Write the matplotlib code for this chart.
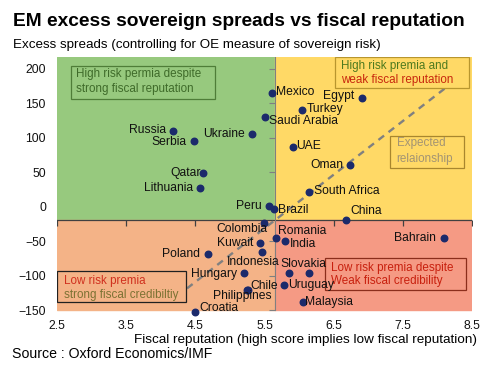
import matplotlib
matplotlib.use("Agg")
import matplotlib.pyplot as plt
from matplotlib.patches import Rectangle

plt.rcParams['font.family'] = ['Liberation Sans', 'DejaVu Sans']

# data
countries = ["Russia", "Serbia", "Qatar", "Lithuania", "Ukraine", "Mexico",
             "Turkey", "Saudi Arabia", "Egypt", "UAE", "Oman", "South Africa",
             "Peru", "Brazil", "China", "Colombia", "Romania", "India",
             "Kuwait", "Indonesia", "Poland", "Hungary", "Chile", "Philippines",
             "Croatia", "Slovakia", "", "Uruguay", "Malaysia", "Bahrain"]
fiscal_rep = [4.18, 4.48, 4.61, 4.57, 5.32, 5.61,
              6.04, 5.51, 6.91, 5.91, 6.73, 6.14,
              5.56, 5.64, 6.68, 5.49, 5.66, 5.79,
              5.43, 5.46, 4.68, 5.20, 5.26, 5.25,
              4.49, 5.85, 6.14, 5.78, 6.06, 8.09]
excess_spread = [110, 96, 49, 27, 106, 165,
                 141, 130, 158, 86, 61, 22,
                 1.5, -3, -19, -23, -45, -49,
                 -52, -65, -68, -96, -120, -121,
                 -152, -96, -96, -113, -138, -45]

x_ticks = [2.5, 3.5, 4.5, 5.5, 6.5, 7.5, 8.5]
y_ticks = [-150, -100, -50, 0, 50, 100, 150, 200]
x_cross = 5.65
y_cross = -19
trend_x = [4.38, 8.14]
trend_y = [-118, 174]

# label placement (pixel offsets, alignment)
label_pos = {
    "Russia": (-7, 1, "right"), "Serbia": (-7, -1, "right"),
    "Qatar": (-2, 0, "right"), "Lithuania": (-7, 0, "right"),
    "Ukraine": (-7, 0, "right"), "Mexico": (4, 1, "left"),
    "Turkey": (5, 1, "left"), "Saudi Arabia": (4, -4, "left"),
    "Egypt": (-8, 2, "right"), "UAE": (3, 1, "left"),
    "Oman": (-6, 0, "right"), "South Africa": (5, 1, "left"),
    "Peru": (-7, 0, "right"), "Brazil": (4, -1, "left"),
    "China": (4, 9, "left"), "Colombia": (4, -6, "right"),
    "Romania": (2, 7, "left"), "India": (5, -3, "left"),
    "Kuwait": (-6, 0, "right"), "Indonesia": (-8, -10, "center"),
    "Poland": (-8, 0, "right"), "Hungary": (-7, -1, "right"),
    "Chile": (2, 4, "left"), "Philippines": (-5, -6, "center"),
    "Croatia": (5, 4, "left"), "Slovakia": (-8, 9, "left"),
    "Uruguay": (4, 0, "left"), "Malaysia": (2, 0, "left"),
    "Bahrain": (-8, 0, "right"),
}

fig = plt.figure(figsize=(4.93, 3.69), dpi=100)
ax = fig.add_axes([0.1156, 0.1436, 0.8418, 0.7019])
x0, x1 = 2.5, 8.5
y0, y1 = -150, 217
ax.set_xlim(x0, x1)
ax.set_ylim(-158, y1)

# quadrant backgrounds
ax.add_patch(Rectangle((x0, y_cross), x_cross - x0, y1 - y_cross, color="#97C97E", zorder=0))
ax.add_patch(Rectangle((x_cross, y_cross), x1 - x_cross, y1 - y_cross, color="#FFD966", zorder=0))
ax.add_patch(Rectangle((x0, y0), x_cross - x0, y_cross - y0, color="#F4B387", zorder=0))
ax.add_patch(Rectangle((x_cross, y0), x1 - x_cross, y_cross - y0, color="#F59A84", zorder=0))

# axis lines crossing in the middle
ax.plot([x0, x1], [y_cross, y_cross], color="#404040", lw=0.9, zorder=1)
ax.plot(x_ticks, [y_cross] * len(x_ticks), ls="none", marker=3, ms=4,
        mew=0.9, color="#404040", zorder=1)
ax.plot([x_cross, x_cross], [y0, y1], color="#808080", lw=0.8, zorder=1)
ax.plot([x_cross] * len(y_ticks), y_ticks, ls="none", marker=0, ms=4,
        mew=0.8, color="#808080", zorder=1)

# expected relationship
ax.plot(trend_x, trend_y, color="#808080", lw=1.7, ls=(0, (3, 2.4)), zorder=2)

ax.scatter(fiscal_rep, excess_spread, s=22, color="#1B2A6B", zorder=4, clip_on=False)
for name, xv, yv in zip(countries, fiscal_rep, excess_spread):
    if not name:
        continue
    dx, dy, ha = label_pos[name]
    ax.annotate(name, (xv, yv), xytext=(dx, dy), textcoords="offset pixels",
                ha=ha, va="center", fontsize=8.7, color="#111111", zorder=5)

# annotation boxes
def box(xa, ya, w, h, edge, face):
    ax.add_patch(Rectangle((xa, ya), w, h, facecolor=face, edgecolor=edge,
                           lw=0.9, zorder=3))

box_fs = 8.4
box(2.70, 156.5, 2.08, 48, "#4F7D38", "#97C97E")
ax.text(2.78, 192, "High risk permia despite", fontsize=box_fs, color="#3F6B2A", va="center", zorder=4)
ax.text(2.78, 170, "strong fiscal reputation", fontsize=box_fs, color="#3F6B2A", va="center", zorder=4)

box(6.52, 172, 1.93, 45, "#B8962E", "#FFD966")
ax.text(6.61, 204, "High risk premia and", fontsize=box_fs, color="#4E7A1E", va="center", zorder=4)
ax.text(6.61, 184, "weak fiscal reputation", fontsize=box_fs, color="#C8280E", va="center", zorder=4)

box(7.31, 57, 1.07, 46, "#A8862E", "#FFD966")
ax.text(7.41, 92, "Expected", fontsize=box_fs, color="#A39473", va="center", zorder=4)
ax.text(7.41, 70, "relaionship", fontsize=box_fs, color="#A39473", va="center", zorder=4)

box(2.5, -138, 1.86, 45, "#202020", "#F4B387")
ax.text(2.6, -107, "Low risk premia", fontsize=box_fs, color="#D0301E", va="center", zorder=4)
ax.text(2.6, -127, "strong fiscal credibiltiy", fontsize=box_fs, color="#7C7233", va="center", zorder=4)

box(6.37, -120, 2.04, 46, "#8B2E1C", "#F59A84")
ax.text(6.46, -88, "Low risk premia despite", fontsize=box_fs, color="#C8200E", va="center", zorder=4)
ax.text(6.46, -108, "Weak fiscal credibility", fontsize=box_fs, color="#C8200E", va="center", zorder=4)

ax.set_xticks(x_ticks)
ax.set_xticklabels([f"{v:.1f}" for v in x_ticks])
ax.set_yticks(y_ticks)
ax.tick_params(length=0, labelsize=8.8, colors="#111111")
ax.tick_params(axis="y", pad=8)
ax.tick_params(axis="x", pad=3)
for s in ax.spines.values():
    s.set_visible(False)

fig.text(13 / 493, 1 - 22 / 369, "EM excess sovereign spreads vs fiscal reputation",
         fontsize=13.8, fontweight="bold", ha="left", va="center")
fig.text(13 / 493, 1 - 45 / 369,
         "Excess spreads (controlling for OE measure of sovereign risk)",
         fontsize=9.6, ha="left", va="center")
fig.text(477 / 493, 1 - 340 / 369,
         "Fiscal reputation (high score implies low fiscal reputation)",
         fontsize=9.7, ha="right", va="center")
fig.text(12 / 493, 1 - 354 / 369, "Source : Oxford Economics/IMF",
         fontsize=10.2, ha="left", va="center")

fig.savefig("out.png", dpi=100)
